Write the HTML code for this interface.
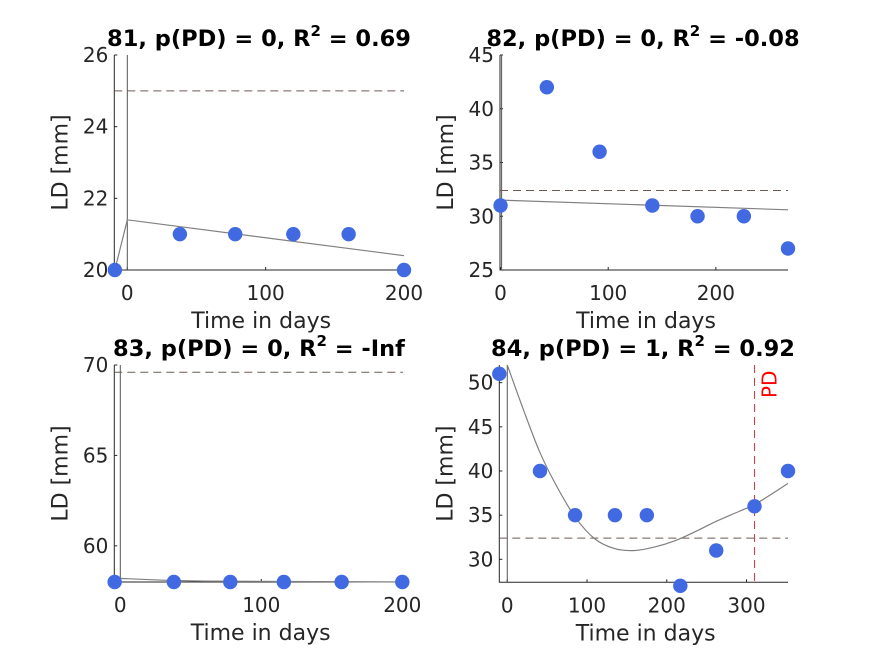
<!DOCTYPE html>
<html><head><meta charset="utf-8"><style>
body{margin:0;background:#fff;}
svg{display:block;font-family:"Liberation Sans","DejaVu Sans",sans-serif;}
.tick{font-size:20px;fill:#262626;font-family:"DejaVu Sans",sans-serif;}
.lab{font-size:22px;fill:#262626;font-family:"DejaVu Sans",sans-serif;}
.ttl{font-size:22.5px;font-weight:bold;fill:#000;font-family:"DejaVu Sans",sans-serif;}
</style></head><body>
<svg id="c" width="875" height="656"></svg>
<script>
// Panel 81
const p81Days=[-9,38,78,120,160,200];
const p81LD=[20,21,21,21,21,20];
const p81FitX=[-9,0,200];
const p81FitY=[20,21.4,20.4];
const p81Thr=[25];
const p81Ticks=[20,22,24,26];
const p81XTicks=[0,100,200];
// Panel 82
const p82Days=[0,43,92,141,183,226,267];
const p82LD=[31,42,36,31,30,30,27];
const p82FitX=[0,267];
const p82FitY=[31.5,30.6];
const p82Thr=[32.4];
const p82Ticks=[25,30,35,40,45];
const p82XTicks=[0,100,200];
// Panel 83
const p83Days=[-4,38,78,116,157,200];
const p83LD=[58,58,58,58,58,58];
const p83FitX=[-4,0,30,60,200];
const p83FitY=[58,58.2,58.1,58.05,58];
const p83Thr=[69.6];
const p83Ticks=[60,65,70];
const p83XTicks=[0,100,200];
// Panel 84
const p84Days=[-10,41,85,135,175,217,262,310,352];
const p84LD=[51,40,35,35,35,27,31,36,40];
const p84FitX=[0,20,40,60,85,110,135,160,185,210,235,262,290,310,335,352];
const p84FitY=[52,47,42.3,38.6,34.8,32.3,31.2,31,31.4,32.1,33.1,34.3,35.4,36.2,37.6,38.6];
const p84Thr=[32.4];
const p84PD=[310];
const p84Ticks=[30,35,40,45,50];
const p84XTicks=[0,100,200,300];

const NS="http://www.w3.org/2000/svg";
const svg=document.getElementById('c');
function el(t,a,p){const e=document.createElementNS(NS,t);for(const k in a)e.setAttribute(k,a[k]);(p||svg).appendChild(e);return e;}

function panel(o){
  const g=el('g',{});
  
  
  const sx=v=>o.L+(v-o.x0)/(o.x1-o.x0)*(o.R-o.L);
  const sy=v=>o.B-(v-o.y0)/(o.y1-o.y0)*(o.B-o.T);
  const ax=el('path',{d:`M${o.L},${o.T}V${o.B}H${o.R}`,stroke:'#262626','stroke-width':1,fill:'none'},g);
  
  
  o.yt.forEach(v=>{
    el('line',{x1:o.L,x2:o.L+3,y1:sy(v),y2:sy(v),stroke:'#262626'},g);
    const t=el('text',{x:o.L-6,y:sy(v)+7,'text-anchor':'end',class:'tick'},g);t.textContent=v;
    
    
  });
  o.xt.forEach(v=>{
    el('line',{x1:sx(v),x2:sx(v),y1:o.B,y2:o.B-3,stroke:'#262626'},g);
    const t=el('text',{x:sx(v),y:o.B+30,'text-anchor':'middle',class:'tick'},g);t.textContent=v;
    
    
  });
  const v0=el('line',{x1:sx(o.vz),x2:sx(o.vz),y1:o.T,y2:o.B,stroke:'#555','stroke-width':1},g);
  
  
  o.thr.forEach(v=>{
    const l=el('line',{x1:o.L,x2:o.R,y1:sy(v),y2:sy(v),stroke:'#6e5a55','stroke-width':1,'stroke-dasharray':'8,5'},g);
    
    
  });
  if(o.pd){o.pd.forEach(v=>{
    const l=el('line',{x1:sx(v),x2:sx(v),y1:o.T,y2:o.B,stroke:'#e8343a','stroke-width':1,'stroke-dasharray':'8,5'},g);
    
    
    const t=el('text',{x:0,y:0,transform:`translate(${sx(v)+22},${o.T+33}) rotate(-90)`,fill:'#f00','font-size':'20px','font-family':'DejaVu Sans,sans-serif'},g);t.textContent='PD';
    
    
  });}
  const pts=o.fx.map((x,i)=>[sx(x),sy(o.fy[i])]);
  let d='M'+pts[0].join(',');
  if(o.smooth){
    for(let i=0;i<pts.length-1;i++){
      const p0=pts[i-1]||pts[i],p1=pts[i],p2=pts[i+1],p3=pts[i+2]||p2;
      d+=`C${p1[0]+(p2[0]-p0[0])/6},${p1[1]+(p2[1]-p0[1])/6} ${p2[0]-(p3[0]-p1[0])/6},${p2[1]-(p3[1]-p1[1])/6} ${p2[0]},${p2[1]}`;
    }
  } else pts.slice(1).forEach(p=>d+='L'+p.join(','));
  const f=el('path',{d,stroke:'#808080','stroke-width':1.2,fill:'none'},g);
  
  
  o.xs.forEach((x,i)=>{
    const c=el('circle',{cx:sx(x),cy:sy(o.ys[i]),r:7.2,fill:'#4169e1'},g);
    
    
  });
  const t=el('text',{x:o.tx,y:o.T-9,'text-anchor':'middle',class:'ttl'},g);
  t.innerHTML=o.title;
  
  
  const xl=el('text',{x:(o.L+o.R)/2+2,y:o.B+58,'text-anchor':'middle',class:'lab'},g);xl.textContent='Time in days';
  
  
  const yl=el('text',{x:0,y:0,transform:`translate(${o.L-47},${(o.T+o.B)/2}) rotate(-90)`,'text-anchor':'middle',class:'lab'},g);yl.textContent='LD [mm]';
  
  
}
const sup='<tspan dy="-10" font-size="15">2</tspan><tspan dy="10">';
panel({name:'panel-81',L:114.3,R:404,T:55,B:270,x0:-9.4,x1:200,y0:20,y1:26,xs:p81Days,ys:p81LD,fx:p81FitX,fy:p81FitY,thr:p81Thr,yt:p81Ticks,xt:p81XTicks,vz:0,tx:259,title:'81, p(PD) = 0, R'+sup+' = 0.69</tspan>'});
panel({name:'panel-82',L:500,R:788,T:55,B:270,x0:-0.5,x1:267,y0:25,y1:45,xs:p82Days,ys:p82LD,fx:p82FitX,fy:p82FitY,thr:p82Thr,yt:p82Ticks,xt:p82XTicks,vz:1,tx:643,title:'82, p(PD) = 0, R'+sup+' = -0.08</tspan>'});
panel({name:'panel-83',L:114.3,R:403,T:365,B:582,x0:-4.25,x1:200.5,y0:58,y1:70,xs:p83Days,ys:p83LD,fx:p83FitX,fy:p83FitY,thr:p83Thr,yt:p83Ticks,xt:p83XTicks,vz:0,tx:259,title:'83, p(PD) = 0, R'+sup+' = -Inf</tspan>'});
panel({name:'panel-84',L:499.3,R:788,T:365,B:582.3,x0:-10,x1:352,y0:27.4,y1:52,xs:p84Days,ys:p84LD,fx:p84FitX,fy:p84FitY,thr:p84Thr,pd:p84PD,yt:p84Ticks,xt:p84XTicks,vz:0,smooth:true,tx:643,title:'84, p(PD) = 1, R'+sup+' = 0.92</tspan>'});
</script>
</body></html>
